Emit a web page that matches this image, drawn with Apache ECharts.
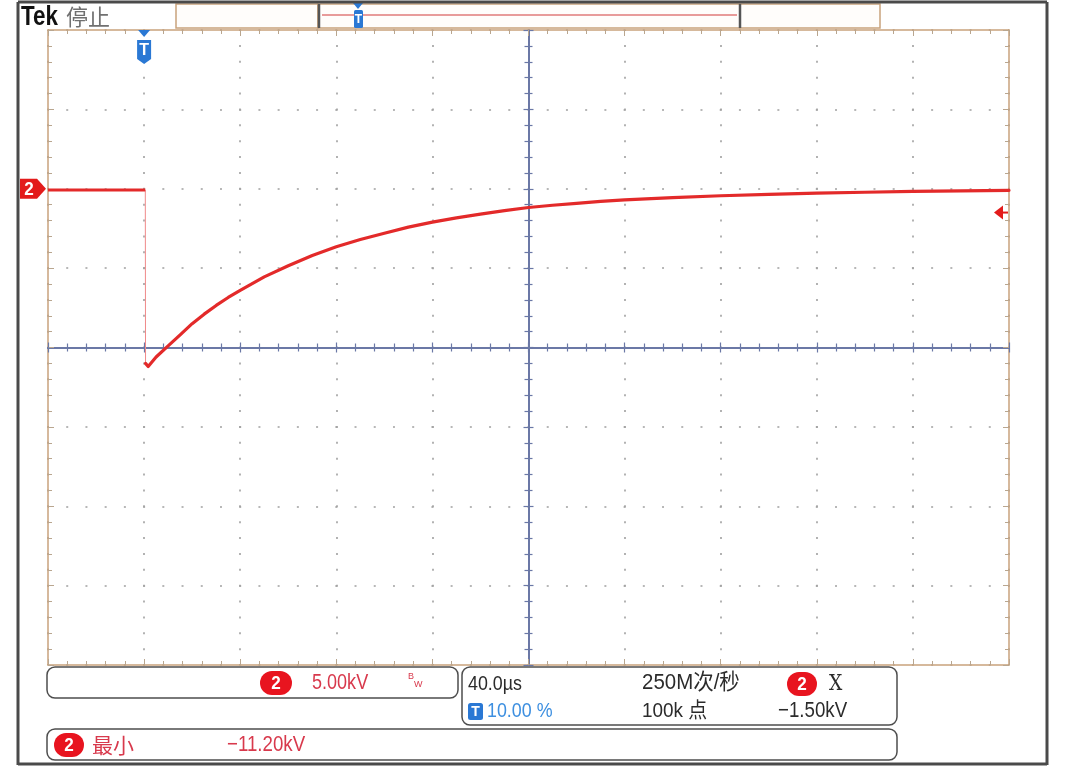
<!DOCTYPE html>
<html><head><meta charset="utf-8">
<script src="https://cdn.jsdelivr.net/npm/echarts@6/dist/echarts.min.js"></script>
<style>html,body{margin:0;padding:0;background:#fff;}#c{width:1080px;height:770px;}</style>
</head><body><div id="c"></div>
<script>
// ---- data ----
const timeUs = [-40, 0, 0.5, 0.6, 1.7, 5, 10, 15, 20, 25, 30, 35, 40, 50, 60, 70, 80, 90, 100, 110, 120, 130, 140, 150, 160, 170, 180, 190, 200, 220, 240, 260, 280, 300, 320, 340, 360];
const ch2kV  = [-0.08, -0.08, -0.08, -11.0, -11.2, -10.6, -9.9, -9.2, -8.5, -7.9, -7.35, -6.85, -6.4, -5.55, -4.85, -4.2, -3.65, -3.2, -2.8, -2.42, -2.1, -1.83, -1.6, -1.38, -1.18, -1.04, -0.92, -0.8, -0.7, -0.56, -0.44, -0.35, -0.27, -0.22, -0.17, -0.13, -0.1];
const timeMin = -40, timeMax = 360, timeDiv = 40;   // 40.0 µs/div, trigger at 10 %
const voltMin = -30, voltMax = 10, voltDiv = 5;     // 5.00 kV/div
const triggerTimeUs = 0;
const triggerLevelKV = -1.5;
const groundKV = 0;
const topLabels = { brand: 'Tek', state: '停止' };
const infoLabels = {
  scale: '5.00kV', timebase: '40.0µs', trigPos: '10.00 %', rate: '250M次/秒',
  points: '100k 点', slope: 'X', level: '−1.50kV', measName: '最小', measValue: '−11.20kV', ch: '2'
};

const pts = timeUs.map((t, i) => [t, ch2kV[i]]);
const preTrig = pts.slice(0, 3);
const edge = pts.slice(2, 4);
const recovery = pts.slice(3);

const FONT = "'Liberation Sans','Noto Sans CJK SC',sans-serif";
const CJK = "'Noto Sans CJK SC',sans-serif";
const TAN = '#c9a27c';
const TICK = '#b9a68f';
const CENTER = '#6b78a6';
const RED = '#e32a2a';
const TXTRED = '#d8394c';
const BLUE = '#2a78d4';

const chart = echarts.init(document.getElementById('c'), null, { renderer: 'canvas' });
const GRID = { left: 48, top: 30, width: 961, height: 635 };

function xAx(extra) {
  return Object.assign({
    type: 'value', min: timeMin, max: timeMax, interval: timeDiv, gridIndex: 0,
    axisLabel: { show: false }, splitLine: { show: false },
    axisLine: { show: true, onZero: false, lineStyle: { color: TAN, width: 1.5 } },
    axisTick: { show: true, inside: true, length: 6, lineStyle: { color: TICK } },
    minorTick: { show: true, splitNumber: 5, length: 4, lineStyle: { color: TICK } }
  }, extra);
}
function yAx(extra) {
  return Object.assign({
    type: 'value', min: voltMin, max: voltMax, interval: voltDiv, gridIndex: 0,
    axisLabel: { show: false }, splitLine: { show: false },
    axisLine: { show: true, onZero: false, lineStyle: { color: TAN, width: 1.5 } },
    axisTick: { show: true, inside: true, length: 6, lineStyle: { color: TICK } },
    minorTick: { show: true, splitNumber: 5, length: 4, lineStyle: { color: TICK } }
  }, extra);
}
const centerLine = { show: true, onZero: false, lineStyle: { color: CENTER, width: 2 } };
const centerTick = (inside) => ({ show: true, inside: inside, length: 5, lineStyle: { color: CENTER, width: 1.2 } });
const centerMinor = (inside) => ({ show: true, splitNumber: 5, length: 4, lineStyle: { color: CENTER, width: 1.2 } });

chart.setOption({
  animation: false,
  backgroundColor: '#ffffff',
  grid: [Object.assign({ show: true, backgroundColor: '#ffffff', borderWidth: 0 }, GRID)],
  xAxis: [
    xAx({ position: 'bottom', splitLine: { show: true, lineStyle: { color: '#a0a0a0', width: 1.6, type: [2, 13.875], dashOffset: 1 } } }),
    xAx({ position: 'top' }),
    xAx({ position: 'bottom', offset: -GRID.height / 2, axisLine: centerLine, axisTick: centerTick(true), minorTick: centerMinor(true) }),
    xAx({ position: 'bottom', offset: -GRID.height / 2, axisLine: centerLine, axisTick: centerTick(false), minorTick: centerMinor(false) })
  ],
  yAxis: [
    yAx({ position: 'left', splitLine: { show: true, lineStyle: { color: '#a0a0a0', width: 1.6, type: [2, 17.22], dashOffset: 1 } } }),
    yAx({ position: 'right' }),
    yAx({ position: 'left', offset: -GRID.width / 2, axisLine: centerLine, axisTick: centerTick(true), minorTick: centerMinor(true) }),
    yAx({ position: 'left', offset: -GRID.width / 2, axisLine: centerLine, axisTick: centerTick(false), minorTick: centerMinor(false) })
  ],
  series: [
    { type: 'line', xAxisIndex: 0, yAxisIndex: 0, data: preTrig, showSymbol: false, z: 5,
      lineStyle: { color: RED, width: 3 } },
    { type: 'line', xAxisIndex: 0, yAxisIndex: 0, data: edge, showSymbol: false, z: 4,
      lineStyle: { color: '#f08a8a', width: 1 } },
    { type: 'line', xAxisIndex: 0, yAxisIndex: 0, data: recovery, showSymbol: false, z: 5,
      smooth: false, lineStyle: { color: RED, width: 3.2, join: 'round', cap: 'round' } }
  ]
});

// ---- annotation overlay (markers positioned through the axes) ----
const trigX = chart.convertToPixel({ xAxisIndex: 0 }, triggerTimeUs);
const gndY = chart.convertToPixel({ yAxisIndex: 0 }, groundKV);
const lvlY = chart.convertToPixel({ yAxisIndex: 0 }, triggerLevelKV);
const rightX = GRID.left + GRID.width;

function T(text, x, y, size, color, o) {
  o = o || {};
  return { type: 'text', z: 120, x: x, y: y, scaleX: o.sx || 1,
    style: { text: text, x: 0, y: 0, fill: color,
      font: (o.weight || 'normal') + ' ' + size + 'px ' + (o.family || FONT),
      align: o.align || 'left', verticalAlign: 'middle' } };
}
function R(x, y, w, h, r, fill, stroke, lw, z) {
  return { type: 'rect', z: z || 110, shape: { x: x, y: y, width: w, height: h, r: r || 0 },
    style: { fill: fill || 'none', stroke: stroke || null, lineWidth: lw || 1 } };
}
function L(x1, y1, x2, y2, color, lw, z) {
  return { type: 'line', z: z || 110, shape: { x1: x1, y1: y1, x2: x2, y2: y2 }, style: { stroke: color, lineWidth: lw || 1 } };
}
function P(points, fill, z) {
  return { type: 'polygon', z: z || 115, shape: { points: points }, style: { fill: fill } };
}
function badge(cx, cy, w, h) {
  return [R(cx - w / 2, cy - h / 2, w, h, h / 2, '#e8141f', null, 0, 116),
          T(infoLabels.ch, cx, cy + 1, 19, '#ffffff', { weight: 'bold', align: 'center', sx: 0.9 })];
}

const g = [];
// outer screen frame
g.push(L(18, 2, 18, 765, '#4a4a4a', 3, 130));
g.push(L(1047, 2, 1047, 765, '#4a4a4a', 3, 130));
g.push(L(18, 2, 1047, 2, '#4a4a4a', 3, 130));
g.push(L(18, 764, 1047, 764, '#4a4a4a', 3, 130));
// top bar
g.push(T(topLabels.brand, 21, 17, 28, '#111', { weight: 'bold', sx: 0.8 }));
g.push(T(topLabels.state, 66, 17, 22, '#707070', { family: CJK }));
g.push(R(176, 4, 142, 24, 0, '#fffdfb', TAN, 1.5));
g.push(R(318, 4, 422, 24, 0, '#fffdfb', TAN, 1.5));
g.push(L(319, 4, 319, 28, '#555', 2.5, 111));
g.push(L(740, 4, 740, 28, '#555', 2.5, 111));
g.push(R(740, 4, 140, 24, 0, '#fffdfb', TAN, 1.5));
g.push(L(322, 15, 737, 15, '#e07a7a', 1.5, 112));
g.push(P([[353, 3], [363, 3], [358, 9]], BLUE, 113));
g.push(R(354, 10, 9, 18, 1.5, BLUE, null, 0, 113));
g.push(T('T', 358.5, 19.5, 12, '#fff', { weight: 'bold', align: 'center' }));
// trigger position marker
g.push(P([[trigX - 6, 30], [trigX + 6, 30], [trigX, 37]], BLUE));
g.push(P([[trigX - 7, 40], [trigX + 7, 40], [trigX + 7, 59], [trigX, 64], [trigX - 7, 59]], BLUE));
g.push(T('T', trigX, 51, 16, '#fff', { weight: 'bold', align: 'center' }));
// channel 2 ground marker
g.push(P([[20, gndY - 10], [37, gndY - 10], [46, gndY], [37, gndY + 10], [20, gndY + 10]], '#e31b1b'));
g.push(T(infoLabels.ch, 29, gndY + 1, 19, '#fff', { weight: 'bold', align: 'center', sx: 0.9 }));
// trigger level arrow
g.push(P([[rightX - 15, lvlY], [rightX - 6, lvlY - 7], [rightX - 6, lvlY + 7]], '#e31b1b'));
g.push(L(rightX - 8, lvlY, rightX - 1, lvlY, '#e31b1b', 2, 115));
// bottom info boxes
g.push(R(47, 667, 411, 31, 8, '#fff', '#4d4d4d', 1.5));
g.push(R(462, 667, 435, 58, 8, '#fff', '#4d4d4d', 1.5));
g.push(R(47, 729, 850, 31, 8, '#fff', '#4d4d4d', 1.5));
g.push.apply(g, badge(276, 683, 32, 24));
g.push(T(infoLabels.scale, 312, 683, 22, TXTRED, { sx: 0.82 }));
g.push(T('B', 408, 677, 9, TXTRED));
g.push(T('W', 414, 685, 9, TXTRED));
g.push(T(infoLabels.timebase, 468, 684, 21, '#2b2b2b', { sx: 0.85 }));
g.push(R(468, 703, 15, 17, 2.5, BLUE, null, 0, 116));
g.push(T('T', 475.5, 712, 14, '#fff', { weight: 'bold', align: 'center' }));
g.push(T(infoLabels.trigPos, 487, 711, 21, '#3d8fe0', { sx: 0.85 }));
g.push(T(infoLabels.rate, 642, 683, 22, '#2b2b2b', { sx: 0.93 }));
g.push(T(infoLabels.points, 642, 711, 21, '#2b2b2b', { sx: 0.9 }));
g.push.apply(g, badge(802, 684, 30, 24));
g.push(T(infoLabels.slope, 829, 684, 22, '#2b2b2b', { family: "'DejaVu Serif',serif", sx: 0.85 }));
g.push(T(infoLabels.level, 778, 711, 22, '#2b2b2b', { sx: 0.85 }));
g.push.apply(g, badge(69, 745, 30, 24));
g.push(T(infoLabels.measName, 92, 745, 21, TXTRED, { family: CJK }));
g.push(T(infoLabels.measValue, 227, 745, 22, TXTRED, { sx: 0.85 }));

chart.setOption({ graphic: { elements: g } });
</script>
</body></html>
